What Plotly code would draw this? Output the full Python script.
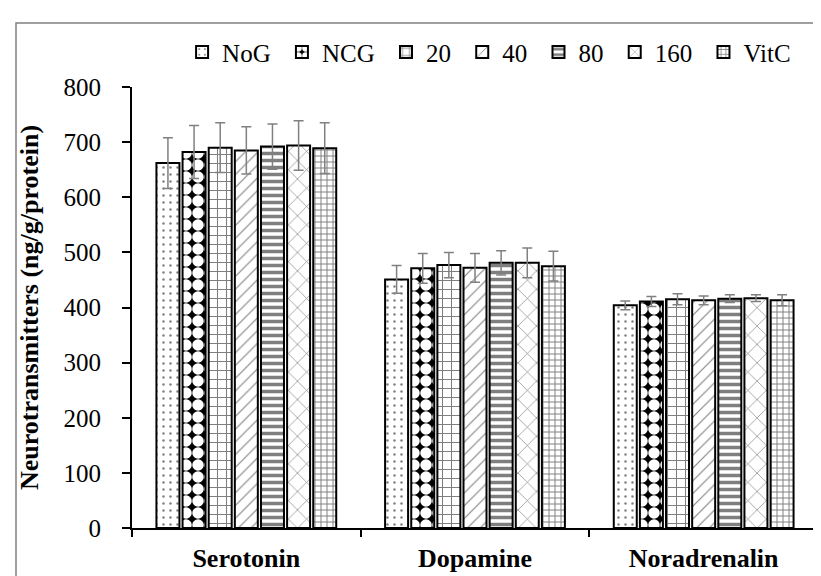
import plotly.graph_objects as go

categories = ["Serotonin", "Dopamine", "Noradrenalin"]
groups = ["NoG", "NCG", "20", "40", "80", "160", "VitC"]

means = {
    "NoG":  [662, 451, 404],
    "NCG":  [682, 471, 411],
    "20":   [690, 477, 415],
    "40":   [685, 472, 413],
    "80":   [692, 481, 416],
    "160":  [694, 481, 417],
    "VitC": [689, 475, 413],
}
errors = {
    "NoG":  [46, 25, 8],
    "NCG":  [48, 27, 9],
    "20":   [45, 23, 10],
    "40":   [43, 26, 8],
    "80":   [41, 22, 7],
    "160":  [45, 27, 6],
    "VitC": [46, 27, 10],
}
y_ticks = [0, 100, 200, 300, 400, 500, 600, 700, 800]

patterns = {
    "NoG":  dict(shape=".", fgcolor="black", bgcolor="white", size=7, solidity=0.1),
    "NCG":  dict(shape=".", fgcolor="white", bgcolor="black", size=12, solidity=0.72,
                 fillmode="replace", fgopacity=1),
    "20":   dict(shape="+", fgcolor="black", bgcolor="white", size=9, solidity=0.22),
    "40":   dict(shape="/", fgcolor="black", bgcolor="white", size=9, solidity=0.12),
    "80":   dict(shape="-", fgcolor="black", bgcolor="white", size=7, solidity=0.5),
    "160":  dict(shape="x", fgcolor="black", bgcolor="white", size=13, solidity=0.1),
    "VitC": dict(shape="+", fgcolor="black", bgcolor="white", size=6, solidity=0.3),
}

FONT = "Liberation Serif"

fig = go.Figure()
for g in groups:
    fig.add_trace(go.Bar(
        name=g + "\u00a0", x=categories, y=means[g],
        marker=dict(color="white", line=dict(color="black", width=2), pattern=patterns[g]),
        error_y=dict(type="data", array=errors[g], visible=True, color="#808080", thickness=1.5, width=5),
    ))

fig.update_layout(
    width=821, height=576,
    margin=dict(l=124, r=11, t=79, b=42),
    paper_bgcolor="white", plot_bgcolor="white",
    barmode="group", bargap=0.2, bargroupgap=0.12,
    font=dict(family=FONT, size=25, color="black"),
    showlegend=True,
    legend=dict(orientation="h", x=0.073, xanchor="left", y=1.079, yanchor="middle",
                font=dict(family=FONT, size=25, color="black"), bgcolor="rgba(0,0,0,0)",
                itemwidth=30),
    xaxis=dict(showline=True, linecolor="black", linewidth=2, ticks="outside", ticklen=7,
               tickwidth=2, tickcolor="black", tickson="boundaries", showgrid=False,
               tickfont=dict(family=FONT, size=26, color="black"),
               ticktext=["<b>%s</b>" % c for c in categories], tickvals=categories,
               ticklabelstandoff=6),
    yaxis=dict(range=[0, 800], tickvals=y_ticks, showline=True, linecolor="black", linewidth=2,
               ticks="outside", ticklen=8, tickwidth=2, tickcolor="black", showgrid=False,
               zeroline=False, tickfont=dict(family=FONT, size=25, color="black"),
               ticklabelstandoff=16,
               title=dict(text="<b>Neurotransmitters (ng/g/protein)</b>",
                          font=dict(family=FONT, size=26, color="black"), standoff=17)),
    shapes=[dict(type="rect", xref="paper", yref="paper",
                 x0=(8 - 124) / 686, x1=1.1, y0=-0.3, y1=(534 - 13) / 455,
                 line=dict(color="#808080", width=1.5), fillcolor="rgba(0,0,0,0)", layer="below")],
)

fig.write_html("out.html")
